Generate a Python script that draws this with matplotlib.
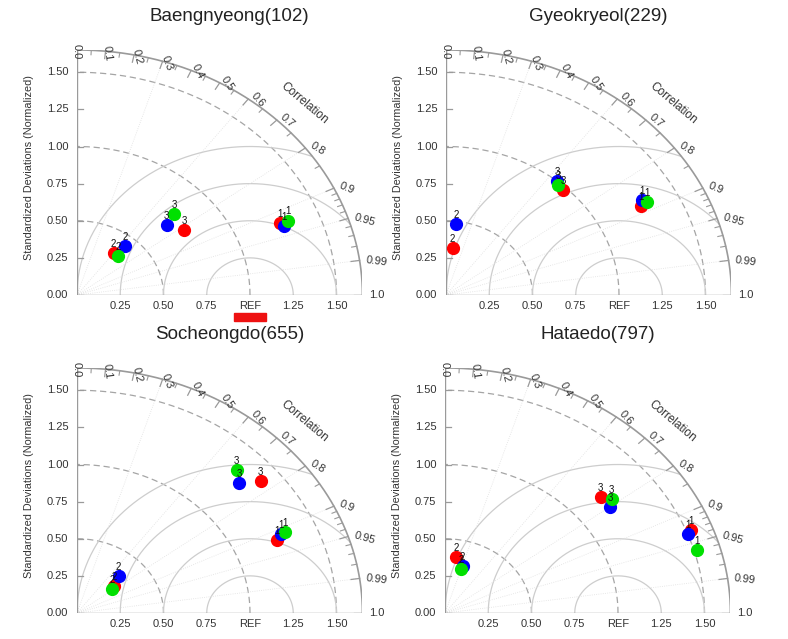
import numpy as np
import matplotlib
matplotlib.use("Agg")
import matplotlib.pyplot as plt
from matplotlib.patches import Rectangle

plt.rcParams["font.family"] = ["Liberation Sans", "DejaVu Sans"]

# 数据
titles = ["Baengnyeong(102)", "Gyeokryeol(229)", "Socheongdo(655)", "Hataedo(797)"]
case_labels = ["1", "2", "3"]
model_colors = ["#ff0000", "#0000ff", "#00e000"]

# rows: red, blue, green ; columns: case 1, 2, 3
std_102 = [[1.269, 0.354, 0.760], [1.282, 0.434, 0.703], [1.320, 0.358, 0.784]]
cor_102 = [[0.924, 0.599, 0.817], [0.933, 0.643, 0.738], [0.925, 0.670, 0.717]]

std_229 = [[1.277, 0.316, 0.980], [1.302, 0.480, 1.003], [1.320, np.nan, 0.982]]
cor_229 = [[0.882, 0.123, 0.691], [0.872, 0.121, 0.640], [0.880, np.nan, 0.660]]

std_655 = [[1.259, 0.280, 1.384], [1.290, 0.348, 1.280], [1.319, 0.259, 1.336]]
cor_655 = [[0.920, 0.767, 0.767], [0.912, 0.690, 0.732], [0.911, 0.780, 0.691]]

std_797 = [[1.527, 0.383, 1.192], [1.505, 0.335, 1.192], [1.516, 0.313, 1.234]]
cor_797 = [[0.930, 0.164, 0.755], [0.935, 0.304, 0.800], [0.960, 0.294, 0.781]]

panel_std = [std_102, std_229, std_655, std_797]
panel_cor = [cor_102, cor_229, cor_655, cor_797]

std_ticks = [0.0, 0.25, 0.5, 0.75, 1.0, 1.25, 1.5]
std_ticklabels = ["0.00", "0.25", "0.50", "0.75", "1.00", "1.25", "1.50"]
x_ticks = [0.25, 0.5, 0.75, 1.0, 1.25, 1.5]
x_ticklabels = ["0.25", "0.50", "0.75", "REF", "1.25", "1.50"]
cor_major = [0.0, 0.1, 0.2, 0.3, 0.4, 0.5, 0.6, 0.7, 0.8, 0.9, 0.95, 0.99, 1.0]
cor_major_labels = ["0.0", "0.1", "0.2", "0.3", "0.4", "0.5", "0.6", "0.7",
                    "0.8", "0.9", "0.95", "0.99", "1.0"]
cor_minor = [0.05, 0.15, 0.25, 0.35, 0.45, 0.55, 0.65, 0.75, 0.85,
             0.91, 0.92, 0.93, 0.94, 0.96, 0.97, 0.98]
cor_grid = [0.3, 0.6, 0.8, 0.9, 0.95, 0.99]
std_arcs = [0.5, 1.0, 1.5]
rms_arcs = [0.25, 0.5, 0.75, 1.0]
rmax = 1.65

W, H = 788, 639
fig = plt.figure(figsize=(W / 100, H / 100), dpi=100)

# 每个子图原点的像素位置 (从左上角算)
origins = [(77, 295), (446, 295), (77, 613), (445, 613)]
sx, sy = 173.0, 148.5  # 每单位标准差的像素

GRAY = "#9a9a9a"
LIGHT = "#cdcdcd"
TXT = "#333333"


def disp_angle(theta):
    return np.degrees(np.arctan2(sy * np.sin(theta), sx * np.cos(theta)))


def draw_taylor(ax, stds, cors, title):
    ax.set_xlim(0, rmax)
    ax.set_ylim(0, rmax)
    ax.axis("off")

    t = np.linspace(0, np.pi / 2, 300)

    # 以原点为圆心的标准差虚线
    for r in std_arcs:
        ax.plot(r * np.cos(t), r * np.sin(t), color="#a5a5a5", lw=0.9,
                ls=(0, (5, 3)))

    # 以 REF 为圆心的 RMS 圆弧
    tt = np.linspace(0, np.pi, 400)
    for r in rms_arcs:
        x = 1.0 + r * np.cos(tt)
        y = r * np.sin(tt)
        mask = (np.hypot(x, y) <= rmax) & (x >= 0)
        x = np.where(mask, x, np.nan)
        ax.plot(x, y, color=LIGHT, lw=0.9)

    # 相关系数放射线
    for c in cor_grid:
        th = np.arccos(c)
        ax.plot([0, rmax * np.cos(th)], [0, rmax * np.sin(th)],
                color="#e0e0e0", lw=0.6, ls=":")

    # 外框
    ax.plot(rmax * np.cos(t), rmax * np.sin(t), color=GRAY, lw=1.2)
    ax.plot([0, 0], [0, rmax], color=GRAY, lw=1.0)
    ax.plot([0, rmax], [0, 0], color=GRAY, lw=1.0)

    # 外圆刻度
    for c in cor_major:
        th = np.arccos(c)
        ax.plot([rmax * np.cos(th), (rmax - 0.05) * np.cos(th)],
                [rmax * np.sin(th), (rmax - 0.05) * np.sin(th)], color=GRAY, lw=0.9)
    for c in cor_minor:
        th = np.arccos(c)
        ax.plot([rmax * np.cos(th), (rmax - 0.03) * np.cos(th)],
                [rmax * np.sin(th), (rmax - 0.03) * np.sin(th)], color=GRAY, lw=0.8)
    for c, lab in zip(cor_major, cor_major_labels):
        th = np.arccos(c)
        r = rmax + 0.04
        ax.text(r * np.cos(th), r * np.sin(th), lab, fontsize=8, color=TXT,
                rotation=-disp_angle(th), rotation_mode="anchor",
                ha="left", va="center", clip_on=False)
    th = np.radians(44.5)
    ax.text(1.84 * np.cos(th), 1.84 * np.sin(th), "Correlation", fontsize=8.5,
            color=TXT, rotation=-disp_angle(th), rotation_mode="anchor",
            ha="center", va="center", clip_on=False)

    # 标准差坐标轴
    for v, lab in zip(std_ticks, std_ticklabels):
        ax.plot([0, 0.035], [v, v], color=GRAY, lw=0.9)
        ax.text(-0.05, v, lab, fontsize=8, color=TXT, ha="right",
                va="center", clip_on=False)
    for v, lab in zip(x_ticks, x_ticklabels):
        ax.text(v, -0.075, lab, fontsize=8, color=TXT, ha="center",
                va="center", clip_on=False)
    ax.text(-0.168, 0.52, "Standardized Deviations (Normalized)", fontsize=7.8,
            color=TXT, rotation=90, ha="center", va="center",
            transform=ax.transAxes)
    ax.text(0.535, 1.138, title, fontsize=13.5, color="#222222", ha="center",
            va="center", transform=ax.transAxes)

    # 数据点
    for m, col in enumerate(model_colors):
        for k, lab in enumerate(case_labels):
            s = stds[m][k]
            c = cors[m][k]
            if np.isnan(s):
                continue
            th = np.arccos(c)
            x, y = s * np.cos(th), s * np.sin(th)
            ax.plot(x, y, "o", color=col, ms=8.5, mec=col, clip_on=False, zorder=5)
            ax.annotate(lab, (x, y), xytext=(0, 6.5), textcoords="offset points",
                        fontsize=7, ha="center", va="center", color="#111111",
                        zorder=6)


for i, (ox, oy) in enumerate(origins):
    left = ox / W
    bottom = (H - oy) / H
    ax = fig.add_axes([left, bottom, rmax * sx / W, rmax * sy / H])
    draw_taylor(ax, panel_std[i], panel_cor[i], titles[i])
    if i == 0:
        # REF 下方的红色标记
        ax.add_patch(Rectangle((0.91, -0.175), 0.18, 0.055, color="#ee1111",
                               clip_on=False, zorder=4))

fig.savefig("out.png", dpi=100)
